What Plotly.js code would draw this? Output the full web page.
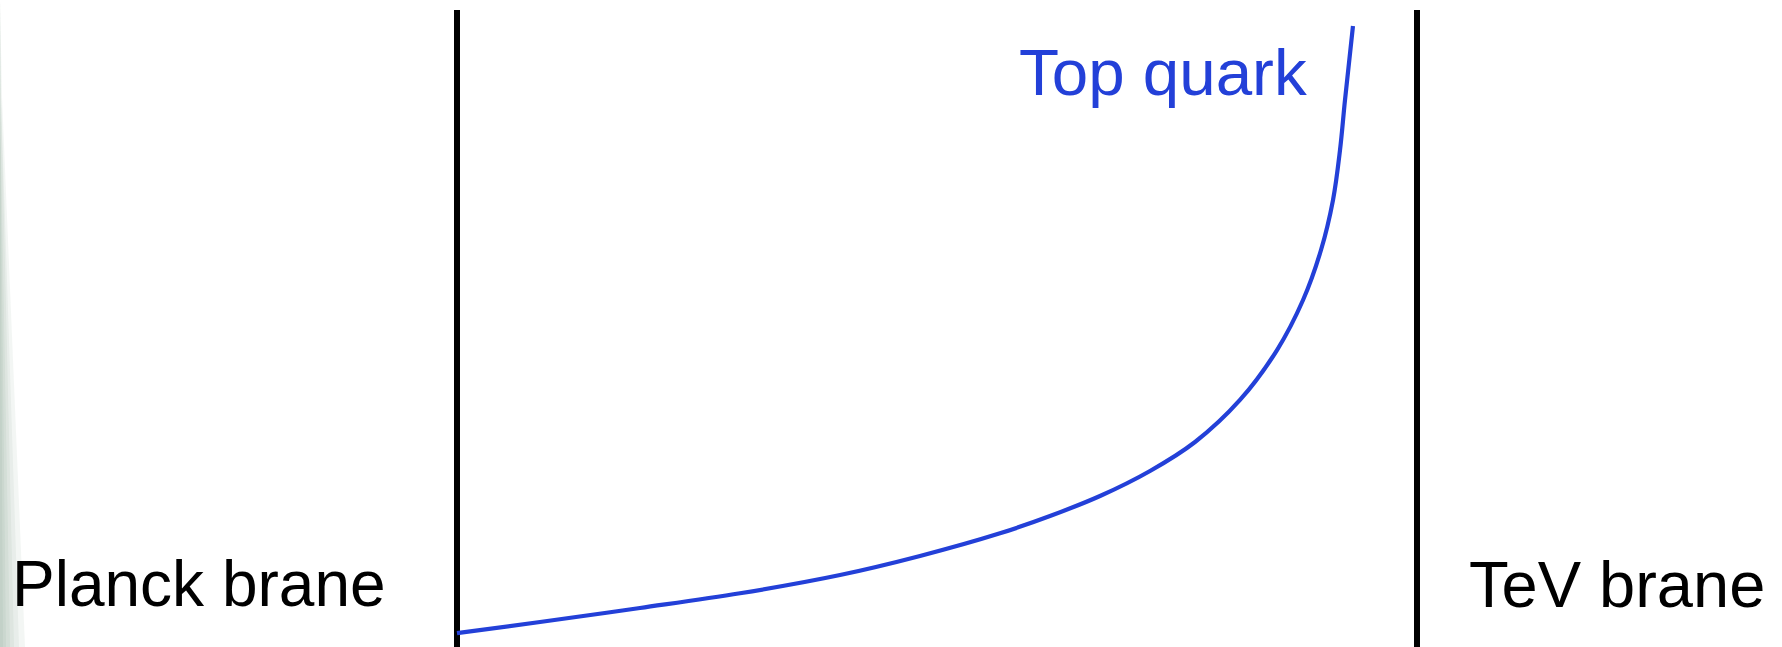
<!DOCTYPE html>
<html>
<head>
<meta charset="utf-8">
<script src="https://cdn.plot.ly/plotly-3.0.1.min.js"></script>
<style>html,body{margin:0;padding:0;background:#fff;}#chart{width:1782px;height:647px;}</style>
</head>
<body>
<div id="chart"></div>
<script>
// Extra-dimension coordinate: 0 = Planck brane, 1 = TeV brane
const braneNames = ["Planck brane", "TeV brane"];
const branePositions = [0, 1];
const braneExtent = [-0.05, 1.0];

// Top-quark zero-mode profile
const profileLabel = "Top quark";
const profileX = [0.0000, 0.0865, 0.1906, 0.2948, 0.3990, 0.4823, 0.5656, 0.6177, 0.6698, 0.7219,
                  0.7688, 0.8156, 0.8542, 0.8813, 0.9000, 0.9125, 0.9198, 0.9250, 0.9333];
const profileY = [0.0217, 0.0392, 0.0612, 0.0843, 0.1130, 0.1429, 0.1785, 0.2056, 0.2370, 0.2763,
                  0.3218, 0.3878, 0.4662, 0.5447, 0.6232, 0.7017, 0.7802, 0.8587, 0.9749];

const W = 1782, H = 647;
const px = v => v / W;

const traces = [];
branePositions.forEach((bx, i) => {
  traces.push({
    x: [bx, bx], y: braneExtent, mode: 'lines', name: braneNames[i],
    line: {color: '#000000', width: 6}, hoverinfo: 'skip'
  });
});
traces.push({
  x: profileX, y: profileY, mode: 'lines', name: profileLabel,
  line: {color: '#2340d8', width: 4.2, shape: 'spline', smoothing: 1}, hoverinfo: 'skip'
});

// faint greenish-grey edge shading on the left
const shapes = [];
[[3,0],[6,0],[10,0],[14,1],[19,1],[25,2]].forEach(([wb, wt]) => {
  shapes.push({
    type: 'path', xref: 'paper', yref: 'paper', layer: 'below',
    path: `M 0 0 L ${px(wb)} 0 L ${px(wt)} 0.85 L 0 1 Z`,
    fillcolor: 'rgb(120,145,128)', opacity: 0.085, line: {width: 0}
  });
});

const labelFont = 'Liberation Sans, Arial, sans-serif';
const layout = {
  width: W, height: H,
  margin: {l: 0, r: 0, t: 0, b: 0},
  paper_bgcolor: '#ffffff', plot_bgcolor: 'rgba(0,0,0,0)',
  showlegend: false,
  xaxis: {range: [-457/960, (W-457)/960], visible: false, fixedrange: true},
  yaxis: {range: [0, 647/637], visible: false, fixedrange: true},
  shapes: shapes,
  annotations: [
    {text: braneNames[0], xref: 'paper', yref: 'paper', x: px(10), y: 1 - 584/H,
     xanchor: 'left', yanchor: 'middle', showarrow: false,
     font: {family: labelFont, size: 64, color: '#000000'}},
    {text: braneNames[1], xref: 'paper', yref: 'paper', x: px(1467), y: 1 - 584/H,
     xanchor: 'left', yanchor: 'middle', showarrow: false,
     font: {family: labelFont, size: 65, color: '#000000'}},
    {text: profileLabel, xref: 'paper', yref: 'paper', x: px(1017), y: 1 - 73/H,
     xanchor: 'left', yanchor: 'middle', showarrow: false,
     font: {family: labelFont, size: 65.5, color: '#2340d8'}}
  ]
};

Plotly.newPlot('chart', traces, layout, {displayModeBar: false, staticPlot: true});
</script>
</body>
</html>
